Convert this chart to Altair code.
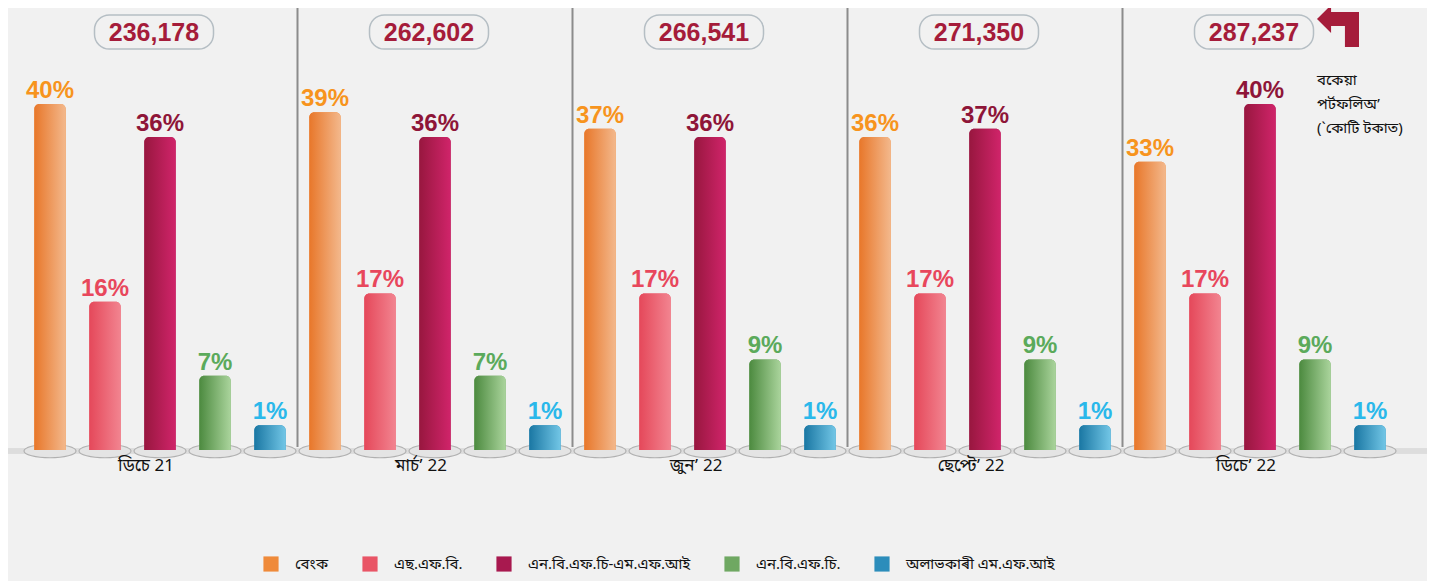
import altair as alt
import pandas as pd

# ---------------- data ----------------
periods = ["ডিচে 21", "মাৰ্চ’ 22", "জুন’ 22", "ছেপ্টে’ 22", "ডিচে’ 22"]
totals = ["236,178", "262,602", "266,541", "271,350", "287,237"]
categories = ["বেংক", "এছ.এফ.বি.", "এন.বি.এফ.চি-এম.এফ.আই", "এন.বি.এফ.চি.", "অলাভকাৰী এম.এফ.আই"]
bank = [40, 39, 37, 36, 33]
sfb = [16, 17, 17, 17, 17]
nbfc_mfi = [36, 36, 36, 37, 40]
nbfc = [7, 7, 9, 9, 9]
nonprofit = [1, 1, 1, 1, 1]
note_lines = ["বকেয়া", "পৰ্টফলিঅ’", "(`কোটি টকাত)"]

series = [bank, sfb, nbfc_mfi, nbfc, nonprofit]
rows = []
for ci, cat in enumerate(categories):
    for pi, per in enumerate(periods):
        rows.append({"period": per, "category": cat, "value": series[ci][pi],
                     "label": f"{series[ci][pi]}%"})
df = pd.DataFrame(rows)
df_tot = pd.DataFrame({"period": periods, "total": totals})
df_sep = pd.DataFrame({"period": periods[1:]})

# ---------------- styles ----------------
legend_colors = ["#EF8A3A", "#E95566", "#A8194F", "#6FA862", "#2C8DBB"]
label_colors = ["#F7941D", "#E8475C", "#8E1538", "#5BAA5B", "#2AB8EA"]
grad = [("#E8772A", "#F3B88C"), ("#E5485A", "#F28490"), ("#98173F", "#D0246A"),
        ("#4C8A3F", "#AAD49C"), ("#1A77A3", "#72C6E6")]
BASE = -2
FONT_BN = "Noto Sans Bengali, Lohit Assamese, Noto Sans, sans-serif"
FONT_NUM = "Liberation Sans, Arial, sans-serif"

xscale = alt.Scale(domain=periods, range=[14.5, 1389.5], paddingInner=0, paddingOuter=0)
xoff = alt.Scale(domain=categories, paddingInner=0.43, paddingOuter=0.215)
yscale = alt.Scale(domain=[BASE, 40], range=[442, 96])

X = alt.X("period:N", scale=xscale, axis=None)
XO = alt.XOffset("category:N", scale=xoff)
Y = alt.Y("value:Q", scale=yscale, axis=None)


def ellipse_path(ry):
    k = 0.5523
    return (f"M -1 0 C -1 {-ry*k:.4f} {-k:.4f} {-ry} 0 {-ry} "
            f"C {k:.4f} {-ry} 1 {-ry*k:.4f} 1 0 "
            f"C 1 {ry*k:.4f} {k:.4f} {ry} 0 {ry} "
            f"C {-k:.4f} {ry} -1 {ry*k:.4f} -1 0 Z")


def roundrect_path(h, r):
    k = 0.4477 * r
    return (f"M {-1+r} {-h} L {1-r} {-h} C {1-k} {-h} 1 {-h+k} 1 {-h+r} "
            f"L 1 {h-r} C 1 {h-k} {1-k} {h} {1-r} {h} "
            f"L {-1+r} {h} C {-1+k} {h} -1 {h-k} -1 {h-r} "
            f"L -1 {-h+r} C -1 {-h+k} {-1+k} {-h} {-1+r} {-h} Z")


arrow_path = ("M -1 -0.33 L -0.33 -1 L -0.33 -0.67 L 1 -0.67 L 1 1 L 0.33 1 "
              "L 0.33 0.0 L -0.33 0.0 L -0.33 0.33 Z")

base = alt.Chart(df)

floor = base.mark_rule(color="#dddddd", strokeWidth=5).encode(
    x=alt.value(-4), x2=alt.value(1424), y=alt.value(443))

plates = base.mark_point(shape=ellipse_path(0.26), size=52 ** 2, filled=True,
                         fill="#e4e4e4", stroke="#b0b0b0", strokeWidth=1.2,
                         opacity=1).encode(
    x=X, xOffset=XO, y=alt.value(443))

seps = alt.Chart(df_sep).mark_rule(color="#8c8c8c", strokeWidth=2).encode(
    x=alt.X("period:N", scale=xscale, axis=None, bandPosition=0),
    y=alt.value(-3), y2=alt.value(439))

legend_bars = base.mark_bar(cornerRadiusTopLeft=5, cornerRadiusTopRight=5).encode(
    x=X, xOffset=XO, y=Y, y2=alt.datum(BASE),
    color=alt.Color("category:N", scale=alt.Scale(domain=categories, range=legend_colors),
                    legend=alt.Legend(title=None, orient="none", direction="horizontal",
                                      legendX=255, legendY=548, symbolType="square",
                                      symbolSize=230, symbolStrokeWidth=0, symbolOpacity=1,
                                      labelFontSize=15, labelFont=FONT_BN, labelColor="#111111",
                                      labelOffset=16, columnPadding=33, labelLimit=300)))

grad_layers = []
for cat, (c1, c2) in zip(categories, grad):
    grad_layers.append(
        base.transform_filter(alt.datum.category == cat).mark_bar(
            cornerRadiusTopLeft=5, cornerRadiusTopRight=5,
            color=alt.Gradient(gradient="linear", x1=0, x2=1, y1=0, y2=0,
                               stops=[alt.GradientStop(color=c1, offset=0),
                                      alt.GradientStop(color=c2, offset=1)])
        ).encode(x=X, xOffset=XO, y=Y, y2=alt.datum(BASE))
    )

labels = base.mark_text(fontSize=24, fontWeight="bold", font=FONT_NUM,
                        baseline="alphabetic", dy=-6).encode(
    x=X, xOffset=XO, y=Y, text="label:N",
    color=alt.Color("category:N", scale=alt.Scale(domain=categories, range=label_colors),
                    legend=None))

period_labels = alt.Chart(df_tot).mark_text(fontSize=17, font=FONT_BN, color="#111111",
                                            baseline="middle", dx=-14).encode(
    x=X, y=alt.value(458), text="period:N")

boxes = alt.Chart(df_tot).mark_point(shape=roundrect_path(0.286, 0.25), size=119 ** 2,
                                     filled=False, color="#b5bec4", strokeWidth=1.5,
                                     opacity=1, xOffset=-6).encode(
    x=X, y=alt.value(24))

total_text = alt.Chart(df_tot).mark_text(fontSize=25, fontWeight="bold", font=FONT_NUM,
                                         color="#A51C3A", baseline="middle",
                                         dx=-6, dy=1).encode(
    x=X, y=alt.value(24), text="total:N")

arrow = alt.Chart(df_tot.head(1)).mark_point(shape=arrow_path, size=42 ** 2, filled=True,
                                              color="#A51C3A", opacity=1, strokeWidth=0).encode(
    x=alt.value(1330), y=alt.value(18))

note = alt.Chart(df_tot.head(1)).mark_text(text=note_lines, fontSize=15, font=FONT_BN,
                                           color="#111111", align="left", baseline="middle",
                                           lineHeight=24).encode(
    x=alt.value(1309), y=alt.value(72))

chart = alt.layer(floor, plates, seps, legend_bars, *grad_layers, labels, period_labels,
                  boxes, total_text, arrow, note).resolve_scale(color="independent").properties(
    width=1419, height=573, padding=0, autosize="none", background="#f1f1f1"
).configure_view(stroke=None)

chart.save("out.html", embed_options={"renderer": "svg", "actions": False})
